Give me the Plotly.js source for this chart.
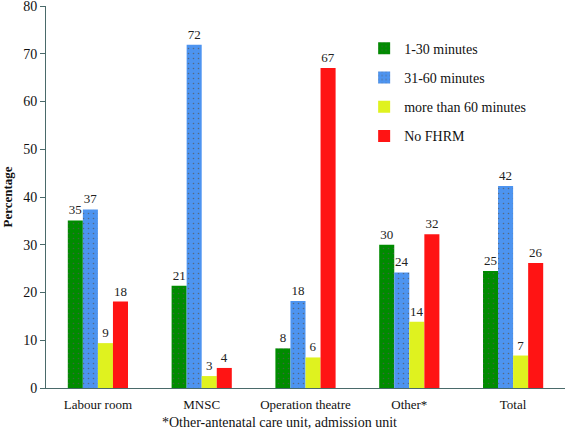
<!DOCTYPE html>
<html>
<head>
<meta charset="utf-8">
<script src="https://cdn.plot.ly/plotly-3.0.1.min.js"></script>
<style>html,body{margin:0;padding:0;background:#fff;}#chart{width:565px;height:430px;}</style>
</head>
<body>
<div id="chart"></div>
<script>
const categories = ["Labour room", "MNSC", "Operation theatre", "Other*", "Total"];
const seriesNames = ["1-30 minutes", "31-60 minutes", "more than 60 minutes", "No FHRM"];
const v1to30 = [35.1, 21.4, 8.3, 30.0, 24.5];
const v31to60 = [37.4, 71.9, 18.2, 24.2, 42.3];
const vOver60 = [9.4, 2.5, 6.4, 13.9, 6.8];
const vNoFHRM = [18.1, 4.2, 67.0, 32.2, 26.2];
const lbl1to30 = ["35", "21", "8", "30", "25"];
const lbl31to60 = ["37", "72", "18", "24", "42"];
const lblOver60 = ["9", "3", "6", "14", "7"];
const lblNoFHRM = ["18", "4", "67", "32", "26"];
const colors = ["#008c00", "#4d94f0", "#dff21f", "#ff1414"];
const yTicks = [0, 10, 20, 30, 40, 50, 60, 70, 80];
const footnote = "*Other-antenatal care unit, admission unit";

const values = [v1to30, v31to60, vOver60, vNoFHRM];
const labels = [lbl1to30, lbl31to60, lblOver60, lblNoFHRM];
const font = "'Liberation Serif', 'Times New Roman', serif";

const traces = values.map((v, i) => ({
  type: "bar",
  name: seriesNames[i],
  x: categories,
  y: v,
  text: labels[i],
  textposition: "outside",
  textfont: {family: font, size: 13, color: "#222"},
  cliponaxis: false,
  legendgroup: "g" + i,
  marker: {
    color: colors[i],
    line: {width: 0},
    pattern: (i === 1 || i === 0) ? {shape: ".", bgcolor: colors[i], fgcolor: "#555", size: 5, solidity: 0.08, fgopacity: 0.7, fillmode: "overlay"} : {shape: ""}
  }
}));

const layout = {
  width: 565, height: 430,
  margin: {l: 46, r: 0, t: 6, b: 42},
  paper_bgcolor: "#fff", plot_bgcolor: "#fff",
  font: {family: font, size: 13, color: "#111"},
  barmode: "group",
  bargap: 0.42,
  bargroupgap: 0,
  showlegend: true,
  legend: {
    x: 0.613, y: 0.93, xanchor: "left", yanchor: "top",
    font: {family: font, size: 14, color: "#111"},
    tracegroupgap: 8,
    itemwidth: 30,
    bgcolor: "rgba(0,0,0,0)"
  },
  xaxis: {
    type: "category",
    showline: true, linecolor: "#4a6a6a", linewidth: 1,
    ticks: "", showgrid: false, zeroline: false,
    ticklabelstandoff: 4,
    tickfont: {family: font, size: 13, color: "#111"}
  },
  yaxis: {
    range: [0, 80],
    tickvals: yTicks,
    ticklabeloverflow: "allow",
    showline: true, linecolor: "#4a6a6a", linewidth: 1,
    ticks: "outside", ticklen: 5, tickcolor: "#4a6a6a",
    showgrid: false, zeroline: false,
    tickfont: {family: font, size: 14, color: "#111"},
    title: {text: "<b>Percentage</b>", font: {family: font, size: 13, color: "#111"}, standoff: 12}
  },
  annotations: [{
    text: footnote, xref: "paper", yref: "paper",
    x: (279 - 46) / 519, y: -0.09, xanchor: "center", yanchor: "middle",
    showarrow: false, font: {family: font, size: 14, color: "#111"}
  }]
};

Plotly.newPlot("chart", traces, layout, {displayModeBar: false, staticPlot: true});
</script>
</body>
</html>
